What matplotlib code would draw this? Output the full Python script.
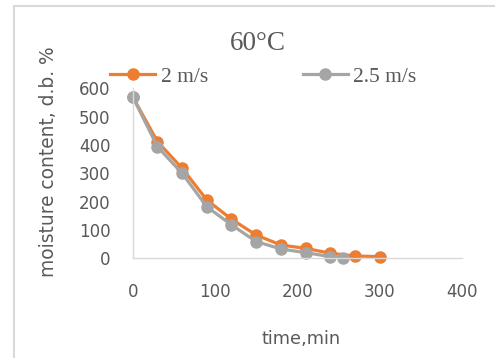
import matplotlib.pyplot as plt
from matplotlib.patches import Rectangle

t_2 = [0, 30, 60, 90, 120, 150, 180, 210, 240, 270, 300]
mc_2 = [570, 412, 318, 206, 138, 82, 47, 35, 18, 8, 6]
t_25 = [0, 30, 60, 90, 120, 150, 180, 210, 240, 255]
mc_25 = [570, 394, 300, 182, 118, 59, 33, 20, 6, 2]
labels = ['2 m/s', '2.5 m/s']
colors = ['#ED7D31', '#A5A5A5']

txt = '#595959'

fig = plt.figure(figsize=(4.95, 3.58), dpi=100)
ax = fig.add_axes([132.7/495, 99.7/358, (462-132.7)/495, 170/358])

for t, mc, lab, c in [(t_2, mc_2, labels[0], colors[0]), (t_25, mc_25, labels[1], colors[1])]:
    ax.plot(t, mc, color=c, lw=2.3, marker='o', ms=8, label=lab, clip_on=False)

ax.set_xlim(0, 400)
ax.set_ylim(0, 600)
ax.set_xticks([0, 100, 200, 300, 400])
ax.set_yticks([0, 100, 200, 300, 400, 500, 600])
for s in ['top', 'right']:
    ax.spines[s].set_visible(False)
for s in ['left', 'bottom']:
    ax.spines[s].set_color('#D9D9D9')
    ax.spines[s].set_linewidth(1)
ax.tick_params(length=0, labelsize=12, labelcolor=txt)
ax.tick_params(axis='y', pad=16)
ax.tick_params(axis='x', pad=18)

ax.set_xlabel('time,min', fontsize=12.8, color=txt, labelpad=21, x=0.51)
ax.set_ylabel('moisture content, d.b. %', fontsize=13.4, color=txt, labelpad=15, y=0.57)

fig.text(258/495, 1 - 43/358, '60°C', family='Liberation Serif', fontsize=19.5,
         color=txt, ha='center', va='center')

leg = ax.legend(loc='center left', bbox_to_anchor=(-22.7/329.3, 1 + 11.6/170), ncol=2,
                frameon=False, handlelength=2.1, columnspacing=4.4, handletextpad=0.25,
                borderaxespad=0, borderpad=0,
                prop={'family': 'Liberation Serif', 'size': 15.5})
for tx in leg.get_texts():
    tx.set_color(txt)

fig.add_artist(Rectangle((14/495, -0.1), 1.0, 1.1 - 6/358, transform=fig.transFigure,
                         fill=False, edgecolor='#D9D9D9', lw=1.5))

plt.savefig('out.png', dpi=100)
